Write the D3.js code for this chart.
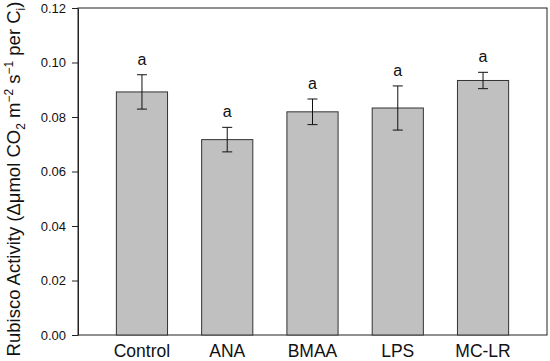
<!DOCTYPE html>
<html>
<head>
<meta charset="utf-8">
<script src="https://cdn.jsdelivr.net/npm/d3@7"></script>
<style>
  body { margin: 0; background: #fff; }
  text { font-family: "Liberation Sans", Arial, sans-serif; }
</style>
</head>
<body>
<svg id="chart"></svg>
<script>
const groups = ["Control", "ANA", "BMAA", "LPS", "MC-LR"]
const means = [0.0892, 0.0717, 0.0819, 0.0833, 0.0934]
const errors = [0.0063, 0.0045, 0.0047, 0.0081, 0.0030]
const letters = ["a", "a", "a", "a", "a"]
const yTicks = [0, 0.02, 0.04, 0.06, 0.08, 0.10, 0.12]

const width = 550, height = 361
const margin = {top: 8, right: 3, bottom: 26, left: 78}

const svg = d3.select("#chart")
    .attr("width", width)
    .attr("height", height)

const x = d3.scaleBand()
    .domain(groups)
    .range([margin.left, width - margin.right])
    .paddingInner(0.4)
    .paddingOuter(0.45)

const y = d3.scaleLinear()
    .domain([0, 0.12])
    .range([height - margin.bottom, margin.top])

// frame
svg.append("rect")
    .attr("x", margin.left)
    .attr("y", margin.top)
    .attr("width", width - margin.right - margin.left)
    .attr("height", height - margin.bottom - margin.top)
    .attr("fill", "none")
    .attr("stroke", "#222")
    .attr("stroke-width", 1)

const bars = svg.selectAll("g.bar")
    .data(groups)
    .enter().append("g")
    .attr("class", "bar")

bars.append("rect")
    .attr("x", d => x(d))
    .attr("y", (d, i) => y(means[i]))
    .attr("width", x.bandwidth())
    .attr("height", (d, i) => y(0) - y(means[i]))
    .attr("fill", "#c0c0c0")
    .attr("stroke", "#333")
    .attr("stroke-width", 1)

const cx = d => x(d) + x.bandwidth() / 2

// error bars
bars.append("line")
    .attr("x1", cx).attr("x2", cx)
    .attr("y1", (d, i) => y(means[i] + errors[i]))
    .attr("y2", (d, i) => y(means[i] - errors[i]))
    .attr("stroke", "#111")

bars.append("line")
    .attr("x1", d => cx(d) - 5).attr("x2", d => cx(d) + 5)
    .attr("y1", (d, i) => y(means[i] + errors[i]))
    .attr("y2", (d, i) => y(means[i] + errors[i]))
    .attr("stroke", "#111")

bars.append("line")
    .attr("x1", d => cx(d) - 5).attr("x2", d => cx(d) + 5)
    .attr("y1", (d, i) => y(means[i] - errors[i]))
    .attr("y2", (d, i) => y(means[i] - errors[i]))
    .attr("stroke", "#111")

bars.append("text")
    .text((d, i) => letters[i])
    .attr("x", cx)
    .attr("y", (d, i) => y(means[i] + errors[i]) - 10)
    .attr("text-anchor", "middle")
    .attr("font-size", 16)
    .attr("fill", "#111")

// y axis
const yAxis = svg.append("g")
    .attr("transform", `translate(${margin.left},0)`)
    .call(d3.axisLeft(y).tickValues(yTicks).tickFormat(d3.format(".2f")).tickSize(6).tickSizeOuter(0))
yAxis.select(".domain").attr("stroke", "#222")
yAxis.selectAll(".tick line").attr("stroke", "#222")
yAxis.selectAll(".tick text")
    .attr("font-size", 13)
    .attr("font-family", "Liberation Sans, Arial, sans-serif")
    .attr("fill", "#111")
    .attr("x", -12)

// x labels
svg.append("g").selectAll("text")
    .data(groups)
    .enter().append("text")
    .text(d => d)
    .attr("x", cx)
    .attr("y", 357)
    .attr("text-anchor", "middle")
    .attr("font-size", 17.5)
    .attr("fill", "#111")

// y title
const title = svg.append("text")
    .attr("transform", "translate(20,179) rotate(-90)")
    .attr("text-anchor", "middle")
    .attr("font-size", 18.5)
    .attr("fill", "#111")

title.append("tspan").text("Rubisco Activity (\u0394\u03bcmol CO")
title.append("tspan").text("2").attr("font-size", 12).attr("dy", 5)
title.append("tspan").text(" m").attr("dy", -5)
title.append("tspan").text("\u22122").attr("font-size", 12).attr("dy", -7)
title.append("tspan").text(" s").attr("dy", 7)
title.append("tspan").text("\u22121").attr("font-size", 12).attr("dy", -7)
title.append("tspan").text(" per C").attr("dy", 7)
title.append("tspan").text("i").attr("font-size", 12).attr("dy", 5)
title.append("tspan").text(")").attr("dy", -5)
</script>
</body>
</html>
